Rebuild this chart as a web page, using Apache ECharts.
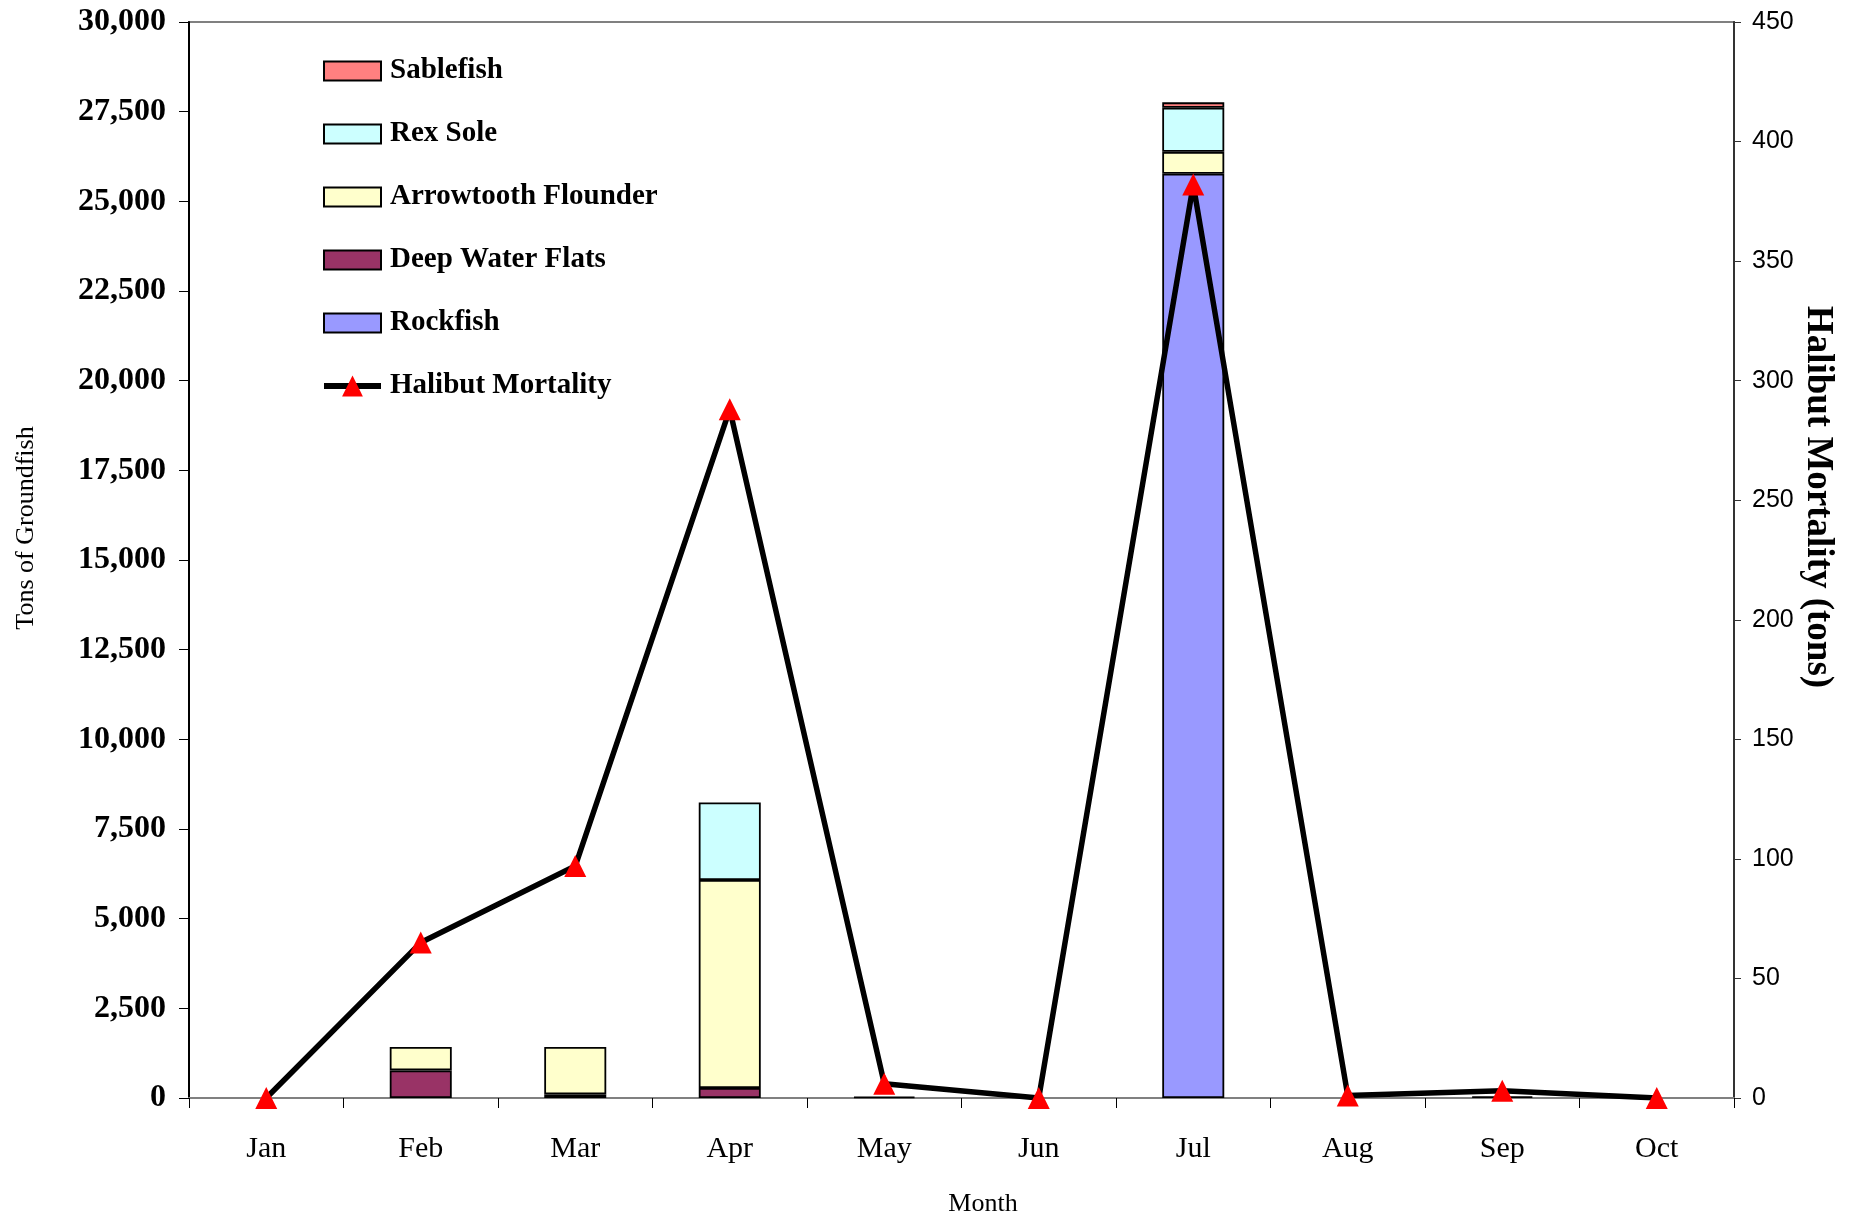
<!DOCTYPE html>
<html>
<head>
<meta charset="utf-8">
<script src="https://cdn.jsdelivr.net/npm/echarts@6/dist/echarts.min.js"></script>
<style>html,body{margin:0;padding:0;background:#fff;}#chart{width:1858px;height:1217px;}</style>
</head>
<body>
<div id="chart"></div>
<script>
const months = ['Jan','Feb','Mar','Apr','May','Jun','Jul','Aug','Sep','Oct'];
const rockfish       = [0, 0,    0,    0,    0,  0, 25770, 0, 0,  0];
const deepWaterFlats = [0, 770,  100,  280,  40, 0, 0,     0, 50, 0];
const arrowtooth     = [0, 650,  1320, 5800, 0,  0, 610,   0, 0,  0];
const rexSole        = [0, 0,    0,    2160, 0,  0, 1230,  0, 0,  0];
const sablefish      = [0, 0,    0,    0,    0,  0, 150,   0, 0,  0];
const halibut        = [0, 65,   97,   288,  6,  0, 382,   1, 3,  0];
const leftTicks = {min: 0, max: 30000, interval: 2500};
const rightTicks = {min: 0, max: 450, interval: 50};

const serif = 'Liberation Serif';
const sans = 'Liberation Sans';
const nz = a => a.map(v => (v ? v : '-'));
const rectIcon = 'path://M0,0L57,0L57,19L0,19Z';

function barSeries(name, data, color) {
  return {
    name: name, type: 'bar', stack: 'g', data: nz(data), barWidth: 62,
    itemStyle: {color: color, borderColor: '#000', borderWidth: 1.8},
    z: 2
  };
}

const chart = echarts.init(document.getElementById('chart'));
chart.setOption({
  animation: false,
  backgroundColor: '#fff',
  grid: {left: 189, right: 124, top: 22, bottom: 119, show: true, borderColor: '#808080', borderWidth: 2, backgroundColor: 'transparent'},
  legend: {
    orient: 'vertical', left: 316, top: 51,
    itemWidth: 57, itemHeight: 26, itemGap: 33, symbolKeepAspect: true,
    data: [
      {name: 'Sablefish', icon: rectIcon},
      {name: 'Rex Sole', icon: rectIcon},
      {name: 'Arrowtooth Flounder', icon: rectIcon},
      {name: 'Deep Water Flats', icon: rectIcon},
      {name: 'Rockfish', icon: rectIcon},
      {name: 'Halibut Mortality'}
    ],
    lineStyle: {width: 6},
    textStyle: {fontFamily: serif, fontWeight: 'bold', fontSize: 29, color: '#000', lineHeight: 30, padding: [0,0,0,4]}
  },
  xAxis: {
    type: 'category', data: months, boundaryGap: true,
    axisLine: {lineStyle: {color: '#808080', width: 2}},
    axisTick: {show: true, length: 10, lineStyle: {color: '#000', width: 1}},
    axisLabel: {fontFamily: serif, fontSize: 30, color: '#000', margin: 36}
  },
  yAxis: [
    {
      type: 'value', min: leftTicks.min, max: leftTicks.max, interval: leftTicks.interval,
      splitLine: {show: false},
      axisLine: {show: true, lineStyle: {color: '#000', width: 2}},
      axisTick: {show: true, length: 10, lineStyle: {color: '#000', width: 1}},
      axisLabel: {fontFamily: serif, fontWeight: 'bold', fontSize: 32, color: '#000', margin: 23,
        formatter: v => v.toLocaleString('en-US')}
    },
    {
      type: 'value', position: 'right', min: rightTicks.min, max: rightTicks.max, interval: rightTicks.interval,
      splitLine: {show: false},
      axisLine: {show: true, lineStyle: {color: '#333', width: 2}},
      axisTick: {show: true, length: 7, lineStyle: {color: '#333', width: 1}},
      axisLabel: {fontFamily: sans, fontSize: 25, color: '#000', margin: 18}
    }
  ],
  graphic: [
    {type: 'text', x: 26, y: 528, rotation: Math.PI / 2,
      style: {text: 'Tons of Groundfish', font: '26px "Liberation Serif"', fill: '#000', align: 'center', verticalAlign: 'middle'}},
    {type: 'text', x: 1818, y: 497, rotation: -Math.PI / 2,
      style: {text: 'Halibut Mortality (tons)', font: 'bold 37px "Liberation Serif"', fill: '#000', align: 'center', verticalAlign: 'middle'}},
    {type: 'text', x: 983, y: 1204,
      style: {text: 'Month', font: '26px "Liberation Serif"', fill: '#000', align: 'center', verticalAlign: 'middle'}}
  ],
  series: [
    barSeries('Rockfish', rockfish, '#9999FF'),
    barSeries('Deep Water Flats', deepWaterFlats, '#993366'),
    barSeries('Arrowtooth Flounder', arrowtooth, '#FFFFCC'),
    barSeries('Rex Sole', rexSole, '#CCFFFF'),
    barSeries('Sablefish', sablefish, '#FF8080'),
    {
      name: 'Halibut Mortality', type: 'line', yAxisIndex: 1, data: halibut,
      symbol: 'triangle', symbolSize: 22, showAllSymbol: true,
      lineStyle: {color: '#000', width: 5.5},
      itemStyle: {color: '#FF0000', borderWidth: 0},
      z: 5
    }
  ]
});
</script>
</body>
</html>
